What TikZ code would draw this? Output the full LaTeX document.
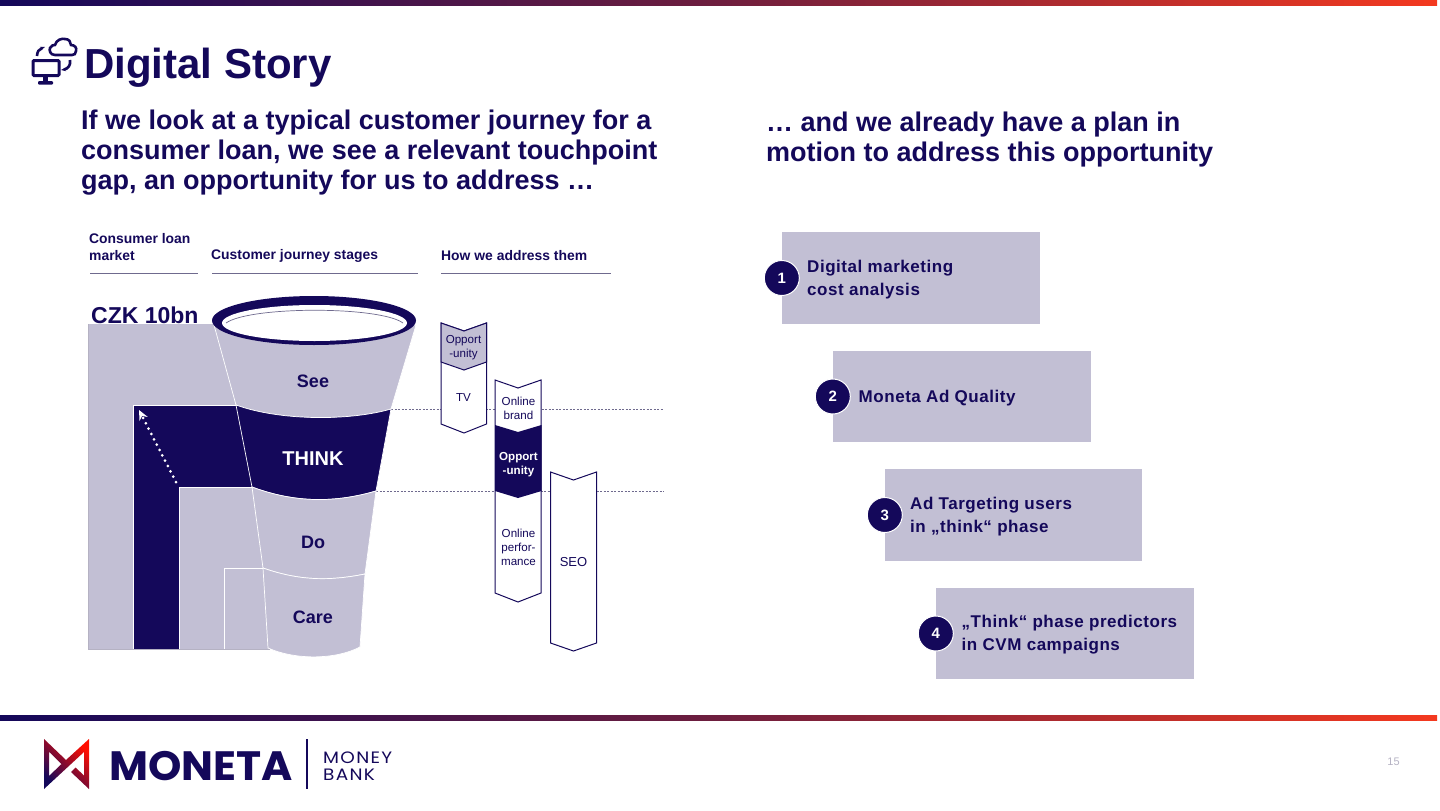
\documentclass[tikz,border=0pt]{standalone}
\usepackage{fontspec}
\setmainfont{Liberation Sans}
\newfontfamily\spacedfont[LetterSpace=3.2]{Liberation Sans}
\newfontfamily\logofont[FakeStretch=1.035]{Poppins}
\newfontfamily\banklogofont[FakeStretch=1.12,LetterSpace=8]{Poppins}
\usetikzlibrary{arrows.meta}
\definecolor{navy}{HTML}{14085A}
\definecolor{lilac}{HTML}{C2BFD4}
\definecolor{barmid}{HTML}{6E1E3E}
\definecolor{barred}{HTML}{F4391F}
\definecolor{headrule}{HTML}{6F6A8E}
\begin{document}
\begin{tikzpicture}[
  x=1pt, y=-1pt,
  bar/.style={left color=navy, right color=barred, middle color=barmid},
  heading/.style={anchor=west, align=left, text=navy, font=\fontsize{27}{30}\selectfont\bfseries},
  colhead/.style={anchor=west, align=left, text=navy, font=\fontsize{13.9}{17}\selectfont\bfseries},
  colrule/.style={draw=headrule, line width=0.7pt},
  stagelabel/.style={text=navy, font=\fontsize{18}{20}\selectfont\bfseries},
  funnel/.style={fill=lilac, draw=white, line width=0.7pt},
  market/.style={draw=white, line width=1pt},
  chev/.style={draw=navy, fill=white, line width=1pt},
  chevlabel/.style={align=center, text=navy, font=\fontsize{11.6}{14}\selectfont},
  guide/.style={draw=headrule, line width=0.6pt, dash pattern=on 2pt off 1.5pt},
  planbox/.style={fill=lilac, minimum width=258pt, minimum height=91.5pt, inner sep=0pt},
  plantext/.style={anchor=west, align=left, text=navy, font=\fontsize{17}{23}\selectfont\spacedfont\bfseries},
  badge/.style={circle, fill=navy, draw=white, line width=1pt, minimum size=35pt, inner sep=0pt, text=white, font=\fontsize{15}{15}\selectfont\bfseries}
]
\useasboundingbox (0,0) rectangle (1440,811);

% bars
\shade[bar] (0,0) rectangle (1437,5);
\shade[bar] (0,715) rectangle (1437,720);

% title and icon
\draw[navy, line width=3pt, rounded corners=1pt] (33,60.5) rectangle (59,75.5);
\fill[navy] (43,76) rectangle (48,82);
\fill[navy, rounded corners=1pt] (38,81) rectangle (53,84.5);
\draw[navy, line width=2.6pt] (55,55) .. controls (50,55) and (49,50) .. (50,48) .. controls (51,45) and (54,45) .. (55,45) .. controls (56,40) and (62,38) .. (65,39) .. controls (69,39) and (71,42) .. (71,45) .. controls (75,45) and (77,48) .. (76,51) .. controls (76,54) and (74,55) .. (72,55) -- cycle;
\draw[navy, line width=2.6pt, -{Stealth[length=5pt]}] (37,56) .. controls (37,52) and (39,49) .. (45,47);
\draw[navy, line width=2.6pt, -{Stealth[length=5pt]}] (70,60) .. controls (71,65) and (68,69) .. (61,70);
\node[anchor=west, text=navy, inner sep=0pt, font=\fontsize{42}{44}\selectfont\bfseries] (title) at (84,68) {Digital Story};

\node[heading, inner sep=0pt] (headleft) at (81,153) {If we look at a typical customer journey for a\\consumer loan, we see a relevant touchpoint\\gap, an opportunity for us to address …};
\node[heading, inner sep=0pt] (headright) at (766,140) {… and we already have a plan in\\motion to address this opportunity};

% column heads
\node[colhead, inner sep=0pt] (market) at (89,247) {Consumer loan\\market};
\node[colhead, inner sep=0pt] (stages) at (211,256) {Customer journey stages};
\node[colhead, inner sep=0pt] (address) at (441,256) {How we address them};
\draw[colrule] (90,273) -- (198,273);
\draw[colrule] (212,273) -- (418,273);
\draw[colrule] (441,273) -- (611,273);

% market
\node[anchor=west, text=navy, inner sep=0pt, font=\fontsize{23}{25}\selectfont\bfseries] (czk) at (91,315) {CZK 10bn};
\fill[lilac] (88,324) rectangle (270,649.5);
\draw[lilac!80!gray, line width=0.8pt] (88,324) -- (88,649.5) -- (270,649.5);
\fill[navy] (133,405) rectangle (260,649);
\draw[market] (133,649) -- (133,405) -- (240,405);
\fill[lilac] (179.5,487) rectangle (268,649);
\draw[market] (179.5,649) -- (179.5,487) -- (255,487);
\draw[market] (224,649) -- (224,568) -- (264,568);

% dashed guides
\coordinate (guideasee) at (391,409);
\coordinate (guideaend) at (664,409);
\coordinate (guidebthink) at (376,491);
\coordinate (guidebend) at (664,491);
\draw[guide] (guideasee) -- (guideaend);
\draw[guide] (guidebthink) -- (guidebend);

% funnel
\path[funnel] (214,325) -- (236,405) .. controls (280,421) and (350,421) .. (391,409) -- (416,325) -- cycle;
\path[funnel, fill=navy] (236,405) .. controls (280,421) and (350,421) .. (391,409) -- (376,491) .. controls (335,503) and (295,503) .. (252,487) -- cycle;
\path[funnel] (252,487) .. controls (295,503) and (335,503) .. (376,491) -- (365,574) .. controls (330,581) and (300,581) .. (263,568) -- cycle;
\path[funnel] (263,568) .. controls (300,581) and (330,581) .. (365,574) -- (360,647) .. controls (335,660) and (295,660) .. (268,648) -- cycle;
\fill[navy] (314,320.5) ellipse (102 and 24.5);
\fill[white] (314.5,323) ellipse (92.5 and 18);
\draw[headrule, line width=0.7pt] (226,323) .. controls (250,306) and (380,306) .. (403,323);
\node[stagelabel] (see) at (313,381) {See};
\node[stagelabel, text=white, font=\fontsize{20}{22}\selectfont\bfseries] (think) at (313,458.5) {THINK};
\node[stagelabel] (do) at (313,542) {Do};
\node[stagelabel] (care) at (313,617) {Care};

% dotted arrow
\coordinate (growfrom) at (176,482);
\coordinate (growto) at (139,410);
\draw[white, line width=3pt, line cap=round, dash pattern=on 0pt off 6pt, -{Stealth[length=10pt, width=9pt]}] (growfrom) -- (growto);

% chevrons
\draw[chev] (441,323) -- (464,331) -- (486.5,323) -- (486.5,424) -- (464,433) -- (441,424) -- cycle;
\draw[chev, fill=lilac] (441,323) -- (464,331) -- (486.5,323) -- (486.5,362) -- (464,370) -- (441,362) -- cycle;
\draw[chev] (495,380) -- (518,388) -- (541,380) -- (541,593) -- (518,602) -- (495,593) -- cycle;
\fill[navy] (495,425) -- (518,432) -- (541.5,425) -- (541.5,491) -- (518,498) -- (495,491) -- cycle;
\draw[chev] (550.5,472) -- (573.5,480) -- (596.5,472) -- (596.5,643) -- (573.5,651) -- (550.5,643) -- cycle;
\node[chevlabel] (opptv) at (463.5,348) {Opport\\-unity};
\node[chevlabel] (tv) at (463.5,398) {TV};
\node[chevlabel] (brand) at (518.5,408) {Online\\brand};
\node[chevlabel, text=white, font=\fontsize{11.6}{14}\selectfont\bfseries] (oppthink) at (518.5,464.5) {Opport\\-unity};
\node[chevlabel] (perf) at (518.5,547.5) {Online\\perfor-\\mance};
\node[chevlabel, font=\fontsize{13}{15}\selectfont] (seo) at (573.5,562) {SEO};

% plan
\node[planbox] (plana) at (911,278) {};
\node[planbox] (planb) at (962,396.5) {};
\node[planbox, minimum width=257pt] (planc) at (1013.5,515) {};
\node[planbox] (pland) at (1065,633.5) {};
\node[badge] (numa) at (plana.west) {1};
\node[badge] (numb) at (planb.west) {2};
\node[badge] (numc) at (planc.west) {3};
\node[badge] (numd) at (pland.west) {4};
\node[plantext, inner sep=0pt] (texta) at (807,280) {Digital marketing\\cost analysis};
\node[plantext, inner sep=0pt] (textb) at (858.5,398.5) {Moneta Ad Quality};
\node[plantext, inner sep=0pt] (textc) at (910,516.5) {Ad Targeting users\\in „think“ phase};
\node[plantext, inner sep=0pt] (textd) at (961.5,635) {„Think“ phase predictors\\in CVM campaigns};

% logo
\shade[shading=axis, bottom color=navy, top color=red!90!orange, shading angle=-45, even odd rule] (44,739) -- (66,760) -- (89,739) -- (89,789) -- (71,772) -- (75.5,767.5) -- (84,775.5) -- (84,752) -- (44,789) -- cycle (49,751.5) -- (49,776) -- (61.5,764) -- cycle;
\node[anchor=west, text=navy, inner sep=0pt, font=\fontsize{41}{41}\selectfont\logofont\bfseries] (moneta) at (109,766) {MONETA};
\draw[navy, line width=1.2pt] (307,739) -- (307,789);
\node[anchor=west, align=left, text=navy, inner sep=0pt, font=\fontsize{16.5}{17}\selectfont\banklogofont] (bank) at (323,766) {MONEY\\BANK};
\node[text=lilac!80!gray, font=\fontsize{11}{11}\selectfont] (page) at (1393.5,762) {15};
\end{tikzpicture}
\end{document}
